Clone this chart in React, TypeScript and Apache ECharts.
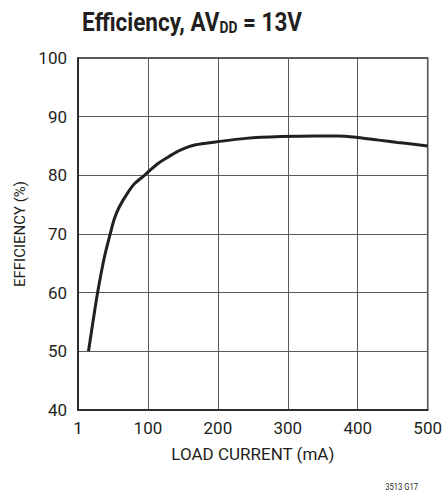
import React, { useEffect, useRef } from "react";
import * as echarts from "echarts";

const loadCurrent = [15, 22, 28, 38, 46, 52, 59, 71, 81, 95, 113, 130, 147, 168, 197, 240, 290, 340, 372, 400, 430, 457, 480, 500];
const efficiency = [50, 55.5, 60, 66.2, 70, 72.6, 74.6, 77, 78.6, 80, 81.9, 83.2, 84.35, 85.2, 85.7, 86.3, 86.6, 86.7, 86.7, 86.45, 86.0, 85.6, 85.3, 85.0];
const xTickLabels = ["1", "100", "200", "300", "400", "500"];

const FONT = "Roboto, 'Liberation Sans', sans-serif";
const INK = "#231f20";

export default function App() {
  const ref = useRef<HTMLDivElement>(null);
  useEffect(() => {
    if (!ref.current) return;
    const chart = echarts.init(ref.current, undefined, { renderer: "svg" });
    chart.setOption({
      animation: false,
      backgroundColor: "#ffffff",
      grid: {
        left: 78,
        right: 15,
        top: 58,
        bottom: 81,
        show: true,
        borderColor: INK,
        borderWidth: 1.5,
      },
      xAxis: {
        type: "value",
        min: 0,
        max: 500,
        interval: 100,
        name: "LOAD CURRENT (mA)",
        nameLocation: "middle",
        nameGap: 35,
        nameTextStyle: { fontFamily: FONT, fontSize: 17, color: INK },
        axisLine: { show: true, lineStyle: { color: INK, width: 1.5 } },
        axisTick: { show: false },
        axisLabel: {
          margin: 9,
          fontFamily: FONT,
          fontSize: 17,
          color: INK,
          formatter: (v: number) => xTickLabels[Math.round(v / 100)] ?? "",
        },
        splitLine: { show: true, lineStyle: { color: "#5a5a5a", width: 1 } },
      },
      yAxis: {
        type: "value",
        min: 40,
        max: 100,
        interval: 10,
        name: "EFFICIENCY (%)",
        nameLocation: "middle",
        nameGap: 50,
        nameTextStyle: { fontFamily: FONT, fontSize: 15, color: INK },
        axisLine: { show: true, lineStyle: { color: INK, width: 1.5 } },
        axisTick: { show: false },
        axisLabel: { margin: 11, fontFamily: FONT, fontSize: 17, color: INK },
        splitLine: { show: true, lineStyle: { color: "#5a5a5a", width: 1 } },
      },
      graphic: [
        {
          type: "group",
          x: 82,
          y: 8,
          scaleX: 0.865,
          children: [
            {
              type: "text",
              x: 0,
              y: 0,
              style: {
                text: "{a|Efficiency, AV}{b|DD}{a| = 13V}",
                rich: {
                  a: { fontFamily: FONT, fontWeight: "bold", fontSize: 26, lineHeight: 28, fill: INK },
                  b: { fontFamily: FONT, fontWeight: "bold", fontSize: 16, lineHeight: 4, fill: INK, verticalAlign: "bottom" },
                },
              },
            },
          ],
        },
        {
          type: "group",
          x: 418,
          y: 482,
          scaleX: 0.85,
          children: [
            {
              type: "text",
              x: 0,
              y: 0,
              style: { text: "3513 G17", fontFamily: FONT, fontSize: 9, fill: INK, align: "right" },
            },
          ],
        },
      ],
      series: [
        {
          type: "line",
          data: loadCurrent.map((x, i) => [x, efficiency[i]]),
          smooth: 0.3,
          symbol: "none",
          lineStyle: { color: INK, width: 3 },
        },
      ],
    });
    return () => chart.dispose();
  }, []);
  return <div ref={ref} style={{ width: 445, height: 491, position: "absolute", left: 0, top: 0 }} />;
}
